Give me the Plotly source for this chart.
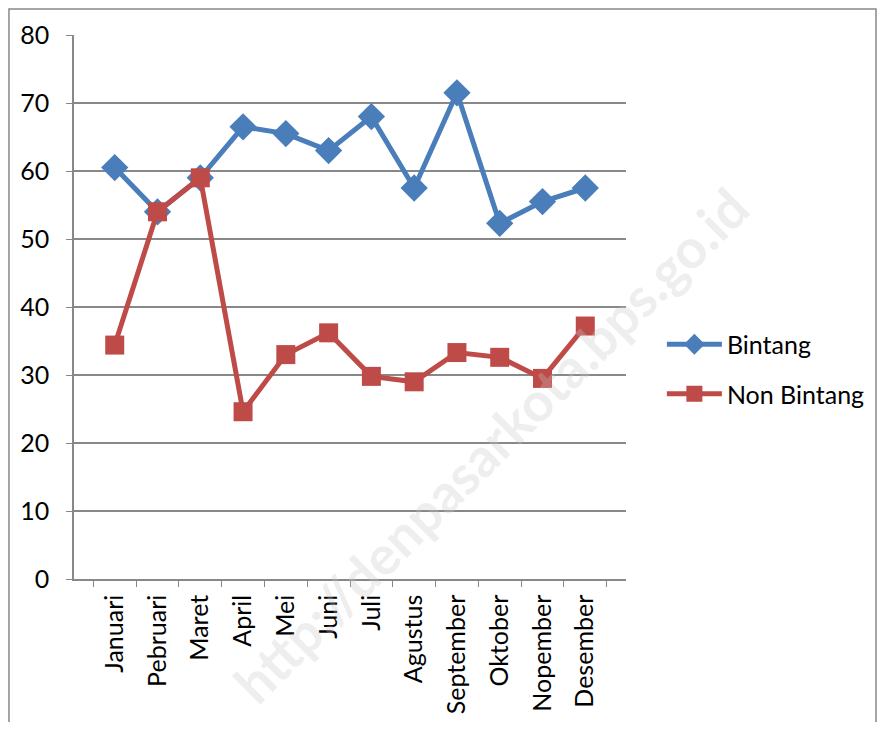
import plotly.graph_objects as go

months = ["Januari", "Pebruari", "Maret", "April", "Mei", "Juni", "Juli",
          "Agustus", "September", "Oktober", "Nopember", "Desember"]
bintang = [60.5, 54.0, 59.0, 66.5, 65.5, 63.0, 68.0, 57.5, 71.5, 52.3, 55.5, 57.5]
non_bintang = [34.4, 54.0, 59.0, 24.6, 33.0, 36.2, 29.8, 29.0, 33.3, 32.6, 29.5, 37.2]
y_ticks = [0, 10, 20, 30, 40, 50, 60, 70, 80]

fig = go.Figure()
fig.add_trace(
    go.Scatter(
        x=months,
        y=bintang,
        mode="lines+markers",
        name="Bintang",
        legendgroup="a",
        line={"color": "#4A7EBB", "width": 5},
        marker={"symbol": "diamond", "size": 21, "color": "#4A7EBB"},
    )
)
fig.add_trace(
    go.Scatter(
        x=months,
        y=non_bintang,
        mode="lines+markers",
        name="Non Bintang",
        legendgroup="b",
        line={"color": "#BE4B48", "width": 5},
        marker={"symbol": "square", "size": 19, "color": "#BE4B48"},
    )
)

# page body has an 8px margin, so the figure is sized to fit the 885x730 window
fig.update_layout(
    width=869,
    height=714,
    margin={"l": 66, "r": 251, "t": 27, "b": 143, "autoexpand": False},
    paper_bgcolor="white",
    plot_bgcolor="white",
    font={"family": "Lato, Open Sans, sans-serif", "size": 25, "color": "black"},
    showlegend=True,
    legend={
        "x": 1.065, "y": 0.386, "xanchor": "left", "yanchor": "middle",
        "font": {"size": 25}, "tracegroupgap": 14, "itemwidth": 55,
        "bgcolor": "rgba(0,0,0,0)",
    },
    shapes=[
        {"type": "rect", "xref": "paper", "yref": "paper",
         "x0": -0.1178, "x1": 1.4529, "y0": -0.32, "y1": 1.0478,
         "line": {"color": "#888888", "width": 1.5}},
    ],
    annotations=[
        {"text": "http://denpasarkota.bps.go.id", "xref": "paper", "yref": "paper",
         "x": 0.754, "y": 0.246, "xanchor": "center", "yanchor": "middle",
         "showarrow": False, "textangle": -45,
         "font": {"size": 54, "color": "rgba(200,200,200,0.3)",
                  "family": "Lato, sans-serif", "weight": "bold"}},
    ],
)

fig.update_xaxes(
    type="category",
    tickson="boundaries",
    ticks="outside",
    ticklen=6,
    tickcolor="#888888",
    tickangle=-90,
    ticklabelstandoff=4,
    showline=True,
    linecolor="#888888",
    linewidth=1.5,
    showgrid=False,
)
fig.update_yaxes(
    range=[0, 80],
    tickvals=y_ticks,
    ticks="outside",
    ticklen=6,
    tickcolor="#888888",
    ticklabelstandoff=12,
    showline=True,
    linecolor="#888888",
    linewidth=1.5,
    gridcolor="#888888",
    gridwidth=1.5,
    zeroline=False,
)

fig.write_html("out.html")
